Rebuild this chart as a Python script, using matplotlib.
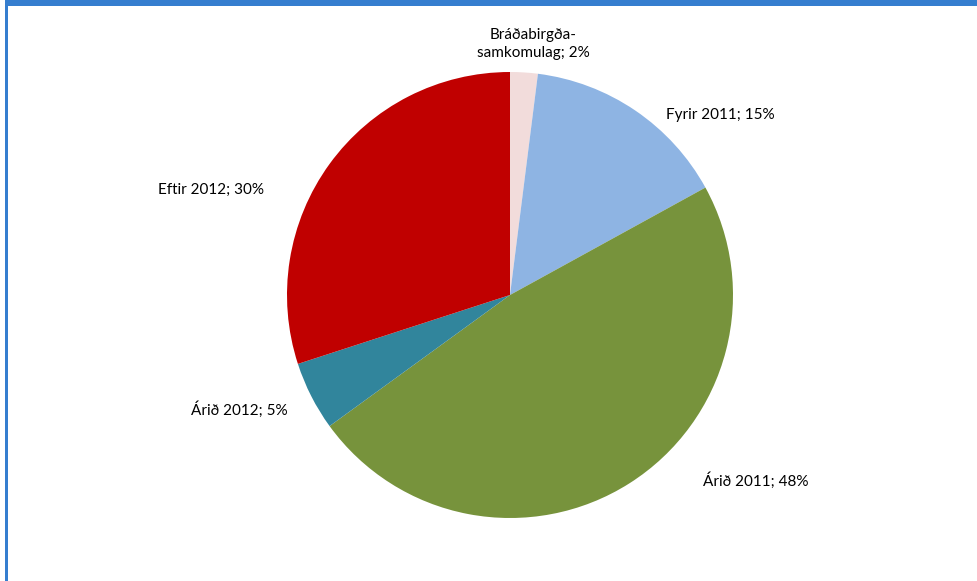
import matplotlib
matplotlib.use("Agg")
import matplotlib.pyplot as plt
from matplotlib.patches import Rectangle

categories = ["Bráðabirgða-\nsamkomulag", "Fyrir 2011", "Árið 2011", "Árið 2012", "Eftir 2012"]
values = [2, 15, 48, 5, 30]
colors = ["#F2DCDB", "#8EB4E3", "#77933C", "#31859C", "#C00000"]

W, H = 978, 581
fig = plt.figure(figsize=(W / 100, H / 100), dpi=100)
ax = fig.add_axes([0, 0, 1, 1])
ax.set_xlim(0, W)
ax.set_ylim(0, H)
ax.set_aspect("equal")
ax.axis("off")

cx, cy, r = 510, H - 295, 223
ax.pie(values, colors=colors, startangle=90, counterclock=False,
       center=(cx, cy), radius=r, frame=True,
       wedgeprops=dict(linewidth=0))
ax.set_xlim(0, W)
ax.set_ylim(0, H)
ax.axis("off")

label_pos = [(533, 44), (720, 115), (756, 481), (239, 410), (211, 190)]
for cat, v, (x, y) in zip(categories, values, label_pos):
    ax.text(x, H - y, f"{cat}; {v}%", ha="center", va="center",
            fontsize=11, family=["Lato", "DejaVu Sans"], color="#000000",
            linespacing=1.35)

# frame decorations: top band and left border
ax.add_patch(Rectangle((6, H - 6), W - 6, 6, color="#357ECF", lw=0, clip_on=False))
ax.add_patch(Rectangle((5, 0), 2.5, H, color="#357ECF", lw=0, clip_on=False))

fig.savefig("out.png", dpi=100)
